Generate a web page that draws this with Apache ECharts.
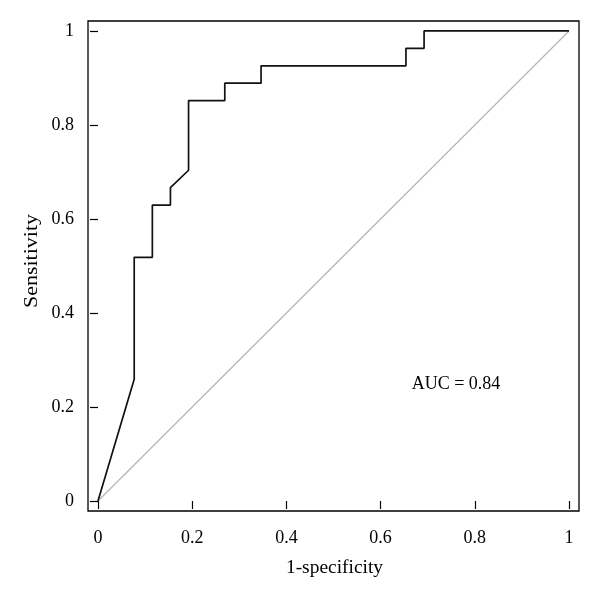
<!DOCTYPE html>
<html>
<head>
<meta charset="utf-8">
<script src="https://cdn.jsdelivr.net/npm/echarts@6/dist/echarts.min.js"></script>
<style>html,body{margin:0;padding:0;background:#fff;}#c{width:600px;height:599px;}</style>
</head>
<body>
<div id="c"></div>
<script>
// ROC curve points (1-specificity, sensitivity)
const fpr = [0, 0.0769, 0.0769, 0.1154, 0.1154, 0.1538, 0.1538, 0.1923, 0.1923, 0.2692, 0.2692, 0.3462, 0.3462, 0.6538, 0.6538, 0.6923, 0.6923, 1];
const tpr = [0, 0.2593, 0.5185, 0.5185, 0.6296, 0.6296, 0.6667, 0.7037, 0.8519, 0.8519, 0.8889, 0.8889, 0.9259, 0.9259, 0.9630, 0.9630, 1, 1];
// reference (chance) line
const refX = [0, 1];
const refY = [0, 1];
// tick values
const tickValues = [0, 0.2, 0.4, 0.6, 0.8, 1];
const aucText = 'AUC = 0.84';
const xName = '1-specificity';
const yName = 'Sensitivity';

const FONT = '"Liberation Serif", "DejaVu Serif", serif';
const FS = 18;
const chart = echarts.init(document.getElementById('c'), null, {renderer: 'canvas'});
const fmt = v => (Math.abs(v) < 1e-9 ? '0' : (Math.abs(v - 1) < 1e-9 ? '1' : String(+v.toFixed(1))));
function axis(margin) {
  return {
    type: 'value', min: -0.0212, max: 1.0212,
    axisLine: {show: false},
    splitLine: {show: false},
    axisTick: {show: true, inside: false, length: 8, customValues: tickValues, lineStyle: {color: '#000', width: 1.2}},
    axisLabel: {show: true, customValues: tickValues, formatter: fmt, fontFamily: FONT, fontSize: FS, color: '#000', margin: margin}
  };
}
chart.setOption({
  animation: false,
  grid: {left: 88, right: 21, top: 21, bottom: 88, show: true, borderColor: '#000', borderWidth: 1.3, backgroundColor: 'transparent'},
  xAxis: axis(18),
  yAxis: axis(14),
  series: [
    {type: 'line', data: refX.map((x, i) => [x, refY[i]]), symbol: 'none', lineStyle: {color: '#b4b4b4', width: 1.2}, z: 2},
    {type: 'line', data: fpr.map((x, i) => [x, tpr[i]]), symbol: 'none', lineStyle: {color: '#111', width: 1.7}, z: 3}
  ],
  graphic: [
    {type: 'text', x: 456, y: 384, style: {text: aucText, font: FS + 'px ' + FONT, fill: '#000', align: 'center', verticalAlign: 'middle'}},
    {type: 'text', x: 334.5, y: 568, scaleX: 1.08, style: {text: xName, font: FS + 'px ' + FONT, fill: '#000', align: 'center', verticalAlign: 'middle'}},
    {type: 'text', x: 32, y: 261, rotation: Math.PI / 2, scaleX: 1.22, style: {text: yName, font: FS + 'px ' + FONT, fill: '#000', align: 'center', verticalAlign: 'middle'}}
  ]
});
</script>
</body>
</html>
